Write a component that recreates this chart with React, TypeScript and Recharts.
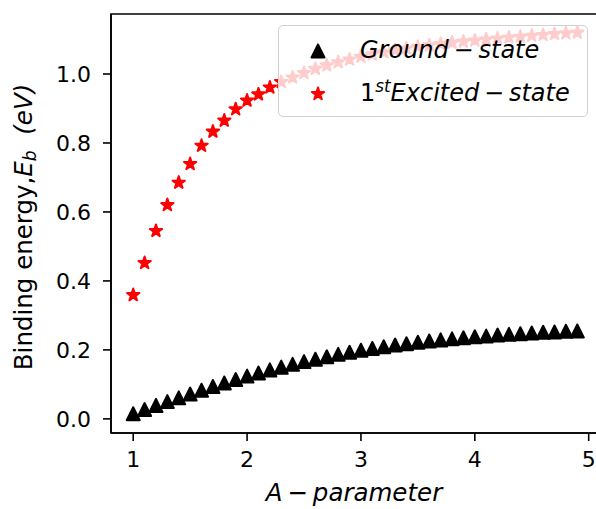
import { ScatterChart, Scatter, XAxis, YAxis, ReferenceArea } from 'recharts'

const aValues = [
  1.0, 1.1, 1.2, 1.3, 1.4, 1.5, 1.6, 1.7, 1.8, 1.9,
  2.0, 2.1, 2.2, 2.3, 2.4, 2.5, 2.6, 2.7, 2.8, 2.9,
  3.0, 3.1, 3.2, 3.3, 3.4, 3.5, 3.6, 3.7, 3.8, 3.9,
  4.0, 4.1, 4.2, 4.3, 4.4, 4.5, 4.6, 4.7, 4.8, 4.9,
]

const groundState = [
  0.015, 0.027, 0.039, 0.05, 0.061, 0.072, 0.083, 0.094, 0.104, 0.114,
  0.124, 0.133, 0.142, 0.15, 0.158, 0.166, 0.173, 0.18, 0.187, 0.193,
  0.199, 0.204, 0.209, 0.214, 0.218, 0.222, 0.226, 0.229, 0.232, 0.235,
  0.238, 0.24, 0.243, 0.245, 0.247, 0.249, 0.251, 0.252, 0.254, 0.255,
]

const excitedState = [
  0.359, 0.452, 0.545, 0.62, 0.685, 0.739, 0.792, 0.833, 0.865, 0.898,
  0.923, 0.941, 0.961, 0.977, 0.99, 1.003, 1.015, 1.025, 1.034, 1.042,
  1.05, 1.057, 1.063, 1.069, 1.074, 1.079, 1.083, 1.087, 1.091, 1.094,
  1.097, 1.1, 1.103, 1.106, 1.108, 1.111, 1.113, 1.116, 1.118, 1.12,
]

const xTicks = [1, 2, 3, 4, 5]
const yTicks = [0, 0.2, 0.4, 0.6, 0.8, 1.0]

const xDomain: [number, number] = [0.805, 5.095]
const yDomain: [number, number] = [-0.041, 1.174]

const groundData = aValues.map((a, i) => ({ a, e: groundState[i] }))
const excitedData = aValues.map((a, i) => ({ a, e: excitedState[i] }))

const FONT = 'DejaVu Sans, sans-serif'
const TICK_FS = 22
const LABEL_FS = 24.5
const LEGEND_FS = 24

// matplotlib '^' marker, centred on its bounding box
function Triangle({ cx, cy, fill }: any) {
  const h = 6.5
  return (
    <path
      d={`M${cx},${cy - h}L${cx - h},${cy + h}L${cx + h},${cy + h}Z`}
      fill={fill}
      stroke={fill}
      strokeWidth={2}
      strokeLinejoin="round"
    />
  )
}

// matplotlib '*' marker
function Star({ cx, cy, fill }: any) {
  const R = 6.5
  const r = R * 0.381966
  let d = ''
  for (let k = 0; k < 10; k++) {
    const rad = k % 2 === 0 ? R : r
    const ang = -Math.PI / 2 + (k * Math.PI) / 5
    d += `${k === 0 ? 'M' : 'L'}${cx + rad * Math.cos(ang)},${cy + rad * Math.sin(ang)}`
  }
  return <path d={d + 'Z'} fill={fill} stroke={fill} strokeWidth={2} strokeLinejoin="round" />
}

function YLabel() {
  return (
    <text
      transform="translate(32, 227) rotate(-90)"
      textAnchor="middle"
      fontFamily={FONT}
      fontSize={LABEL_FS}
      fill="#000"
    >
      Binding energy,
      <tspan fontStyle="italic">E</tspan>
      <tspan fontStyle="italic" fontSize={LABEL_FS * 0.7} dy={4}>b</tspan>
      <tspan dy={-4} fontStyle="italic">{'\u00a0\u00a0(eV)'}</tspan>
    </text>
  )
}

function XLabel() {
  return (
    <text x={354} y={501} textAnchor="middle" fontFamily={FONT} fontSize={LABEL_FS} fontStyle="italic" fill="#000">
      {'A\u2009\u2212\u2009parameter'}
    </text>
  )
}

function LegendBox() {
  return (
    <div
      style={{
        position: 'absolute',
        left: 278,
        top: 25,
        width: 308,
        height: 90,
        background: 'rgba(255,255,255,0.8)',
        border: '1.5px solid #d0d0d0',
        borderRadius: 5,
        fontFamily: FONT,
        fontSize: LEGEND_FS,
        fontStyle: 'italic',
        color: '#000',
      }}
    >
      <svg width={30} height={90} style={{ position: 'absolute', left: 24, top: 0 }}>
        <Triangle cx={15} cy={25} fill="#000" />
        <Star cx={15} cy={68} fill="#ff0000" />
      </svg>
      <div style={{ position: 'absolute', left: 81, top: 10, whiteSpace: 'nowrap', lineHeight: '28px' }}>
        {'Ground\u2009\u2212\u2009state'}
      </div>
      <div style={{ position: 'absolute', left: 81, top: 53, whiteSpace: 'nowrap', lineHeight: '28px' }}>
        <span style={{ fontStyle: 'normal' }}>1</span>
        <sup style={{ fontSize: LEGEND_FS * 0.7, verticalAlign: 'top', position: 'relative', top: -7 }}>st</sup>
        {'Excited\u2009\u2212\u2009state'}
      </div>
    </div>
  )
}

export default function App() {
  return (
    <div
      style={{
        position: 'absolute',
        left: 0,
        top: 0,
        width: 596,
        height: 509,
        overflow: 'hidden',
        background: '#fff',
      }}
    >
      <ScatterChart width={604} height={509} margin={{ top: 14, right: 4.5, bottom: 0, left: 0 }}>
        <ReferenceArea
          x1={xDomain[0]}
          x2={xDomain[1]}
          y1={yDomain[0]}
          y2={yDomain[1]}
          fill="none"
          stroke="#000"
          strokeWidth={1.6}
          ifOverflow="visible"
        />
        <XAxis
          dataKey="a"
          type="number"
          domain={xDomain}
          ticks={xTicks}
          allowDataOverflow
          height={76}
          tickSize={8}
          tickMargin={10}
          axisLine={{ stroke: '#000', strokeWidth: 1.6 }}
          tickLine={{ stroke: '#000', strokeWidth: 1.6 }}
          tick={{ fill: '#000', fontSize: TICK_FS, fontFamily: FONT }}
          label={<XLabel />}
        />
        <YAxis
          dataKey="e"
          type="number"
          domain={yDomain}
          ticks={yTicks}
          allowDataOverflow
          width={111}
          tickSize={8}
          tickMargin={12}
          tickFormatter={(v: number) => v.toFixed(1)}
          axisLine={{ stroke: '#000', strokeWidth: 1.6 }}
          tickLine={{ stroke: '#000', strokeWidth: 1.6 }}
          tick={{ fill: '#000', fontSize: TICK_FS, fontFamily: FONT }}
          label={<YLabel />}
        />
        <Scatter
          name="Ground-state"
          data={groundData}
          fill="#000"
          shape={(p: any) => <Triangle cx={p.cx} cy={p.cy} fill="#000" />}
          isAnimationActive={false}
        />
        <Scatter
          name="1st Excited-state"
          data={excitedData}
          fill="#ff0000"
          shape={(p: any) => <Star cx={p.cx} cy={p.cy} fill="#ff0000" />}
          isAnimationActive={false}
        />
      </ScatterChart>
      <LegendBox />
    </div>
  )
}
